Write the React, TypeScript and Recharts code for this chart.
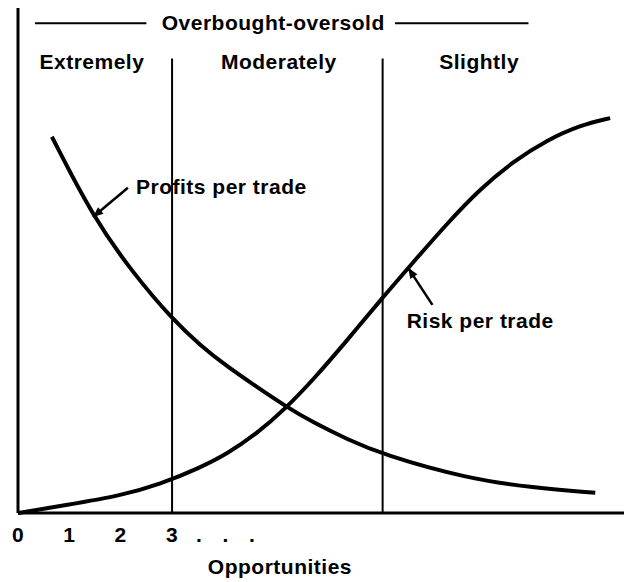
import { LineChart, Line, XAxis, YAxis, ReferenceLine, ReferenceDot } from 'recharts';

// Opportunities (x) vs. relative level (y, 0-100)
const profitX = [0.66, 1.46, 2.24, 3.02, 3.55, 4.07, 4.66, 5.2, 5.75, 6.41, 7.09, 8.75, 10.03, 11.24];
const profitY = [74.5, 58.6, 47.5, 38.2, 33.2, 29.0, 24.9, 21.2, 17.9, 14.6, 11.6, 6.8, 5.0, 4.0];

const riskX = [0, 0.95, 1.99, 2.77, 3.55, 4.07, 4.66, 5.2, 5.75, 6.41, 7.11, 7.64, 8.36, 9.0, 9.64, 10.31, 10.95, 11.53];
const riskY = [0, 1.6, 3.4, 5.7, 9.0, 11.7, 15.8, 20.6, 26.4, 34.2, 42.8, 49.0, 57.4, 64.2, 69.6, 73.9, 76.8, 78.2];

const xTicks = [0, 1, 2, 3];
const zoneEdges = [3, 7.1];
const zoneNames = ['Extremely', 'Moderately', 'Slightly'];
const zoneLabelX = [1.44, 5.08, 8.98];

const profitData = profitX.map((x, i) => ({ x, v: profitY[i] }));
const riskData = riskX.map((x, i) => ({ x, v: riskY[i] }));

const FONT = '"Liberation Sans", Arial, sans-serif';
const textStyle = { fontFamily: FONT, fontSize: 21, fontWeight: 700, fill: '#000', letterSpacing: 0.5 };

const XTick = ({ x, y, payload }: any) => (
  <g>
    <text x={x} y={y} dy={29} textAnchor="middle" style={textStyle}>
      {payload.value}
    </text>
    {payload.value === 3 &&
      [0, 1, 2].map((i) => (
        <text key={i} x={x + 27 + i * 26.5} y={y} dy={29} textAnchor="middle" style={textStyle}>
          .
        </text>
      ))}
  </g>
);

const Arrow = (props: any) => {
  const { x1, y1, x2, y2 } = props;
  const a = Math.atan2(y2 - y1, x2 - x1);
  const len = 11;
  const spread = 0.4;
  const p1 = `${x2 - len * Math.cos(a - spread)},${y2 - len * Math.sin(a - spread)}`;
  const p2 = `${x2 - len * Math.cos(a + spread)},${y2 - len * Math.sin(a + spread)}`;
  return (
    <g>
      <line x1={x1} y1={y1} x2={x2} y2={y2} stroke="#000" strokeWidth={2.5} />
      <polygon points={`${x2},${y2} ${p1} ${p2}`} fill="#000" />
    </g>
  );
};

const TextDot = ({ x, y, text }: { x: number; y: number; text: string }) => (
  <ReferenceDot
    key={text}
    x={x}
    y={y}
    r={0}
    fill="none"
    stroke="none"
    ifOverflow="visible"
    label={{ value: text, position: 'center', style: textStyle }}
  />
);

export default function App() {
  return (
    <div style={{ position: 'absolute', left: 0, top: 0, background: '#fff' }}>
      <LineChart
        width={626}
        height={582}
        margin={{ top: 8, right: 2, bottom: 9, left: 18 }}
      >
        <XAxis
          dataKey="x"
          type="number"
          domain={[0, 11.8]}
          ticks={xTicks}
          tick={<XTick />}
          tickLine={false}
          tickSize={0}
          tickMargin={0}
          height={60}
          axisLine={{ stroke: '#000', strokeWidth: 3 }}
          allowDataOverflow
        />
        <YAxis type="number" domain={[0, 100]} width={0} hide />

        {/* y axis */}
        <ReferenceLine segment={[{ x: 0, y: 0 }, { x: 0, y: 100 }]} stroke="#000" strokeWidth={3} ifOverflow="visible" />

        {zoneEdges.map((e) => (
          <ReferenceLine
            key={e}
            segment={[{ x: e, y: 0 }, { x: e, y: 90 }]}
            stroke="#000"
            strokeWidth={2}
          />
        ))}

        {/* header rule */}
        <ReferenceLine segment={[{ x: 0.33, y: 97 }, { x: 2.5, y: 97 }]} stroke="#000" strokeWidth={2} />
        <ReferenceLine segment={[{ x: 7.34, y: 97 }, { x: 9.94, y: 97 }]} stroke="#000" strokeWidth={2} />
        {TextDot({ x: 4.97, y: 97.2, text: 'Overbought-oversold' })}

        {zoneNames.map((n, i) => TextDot({ x: zoneLabelX[i], y: 89.3, text: n }))}

        <Line
          data={profitData}
          dataKey="v"
          type="basis"
          stroke="#000"
          strokeWidth={4}
          dot={false}
          isAnimationActive={false}
        />
        <Line
          data={riskData}
          dataKey="v"
          type="basis"
          stroke="#000"
          strokeWidth={4}
          dot={false}
          isAnimationActive={false}
        />

        <ReferenceLine segment={[{ x: 2.14, y: 64.4 }, { x: 1.46, y: 58.6 }]} shape={<Arrow />} />
        <ReferenceLine segment={[{ x: 8.07, y: 41.2 }, { x: 7.6, y: 48.5 }]} shape={<Arrow />} />
        {TextDot({ x: 3.96, y: 64.6, text: 'Profits per trade' })}
        {TextDot({ x: 9.0, y: 38.2, text: 'Risk per trade' })}
        {TextDot({ x: 5.1, y: -10.7, text: 'Opportunities' })}
      </LineChart>
    </div>
  );
}
